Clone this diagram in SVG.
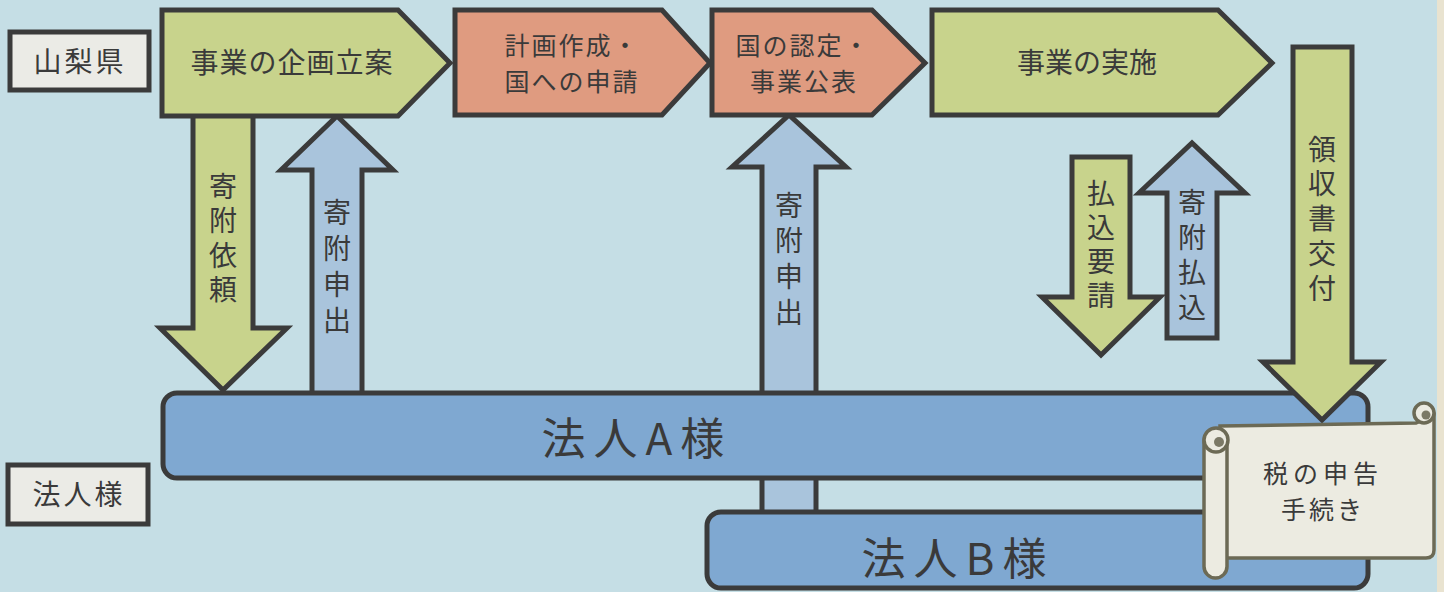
<svg xmlns="http://www.w3.org/2000/svg" width="1444" height="592" viewBox="0 0 1444 592">
<style>
.bg{fill:#c5dee5}
.edge{fill:#e9e3d0}
.shape{stroke:#3b3b3b;stroke-width:5;stroke-linejoin:miter}
.green{fill:#c8d38c}
.salmon{fill:#df9b80}
.lblue{fill:#a9c4dc}
.corp{fill:#7fa8d1}
.label{fill:#ebebe6}
.t{font-family:"Noto Sans CJK JP","Noto Sans",sans-serif;fill:#3a3a3a;text-anchor:middle}
.v{font-family:"Noto Sans CJK JP","Noto Sans",sans-serif;fill:#3a3a3a;font-size:28px;writing-mode:vertical-rl;text-anchor:start}
.t25{font-size:25px;letter-spacing:2px}
.t28{font-size:28px}
.big{font-size:44px;letter-spacing:8px}
.scroll{fill:#ecebe1;stroke:#6c6a55;stroke-width:3.5}
.dot{fill:#7b7966}
</style>
<rect class="bg" x="0" y="0" width="1444" height="592"/>
<rect class="edge" x="1437" y="0" width="7" height="592"/>

<g id="connectors">
  <g id="arrow-kifu-irai">
    <path class="shape green" d="M193,112 L253,112 L253,328 L287,328 L223,390 L160,328 L193,328 Z"/>
    <text class="v" x="223" y="172" style="letter-spacing:6.5px">寄附依頼</text>
  </g>
  <g id="arrow-kifu-moushide-1">
    <path class="shape lblue" d="M312,396 L312,170 L281,170 L337,116 L393,170 L362,170 L362,396 Z"/>
    <text class="v" x="337" y="198" style="letter-spacing:8px">寄附申出</text>
  </g>
  <g id="arrow-kifu-moushide-2">
    <path class="shape lblue" d="M762,515 L762,167 L732,167 L789,115 L846,167 L816,167 L816,515 Z"/>
    <text class="v" x="789" y="191" style="letter-spacing:7.7px">寄附申出</text>
  </g>
  <g id="arrow-haraikomi-yousei">
    <path class="shape green" d="M1072,157 L1130,157 L1130,297 L1160,297 L1101,355 L1042,297 L1072,297 Z"/>
    <text class="v" x="1101" y="179" style="letter-spacing:6px">払込要請</text>
  </g>
  <g id="arrow-kifu-haraikomi">
    <path class="shape lblue" d="M1167,338 L1167,193 L1139,193 L1192,143 L1245,193 L1217,193 L1217,338 Z"/>
    <text class="v" x="1192" y="188" style="letter-spacing:7px">寄附払込</text>
  </g>
</g>

<g id="node-kikaku">
  <path class="shape green" d="M162,10 L398,10 L450,63 L398,116 L162,116 Z"/>
  <text class="t t28" x="292" y="73" style="letter-spacing:1px">事業の企画立案</text>
</g>
<g id="node-keikaku">
  <path class="shape salmon" d="M455,10 L662,10 L710,63 L662,115 L455,115 Z"/>
  <text class="t t25" x="572" y="55">計画作成・</text>
  <text class="t t25" x="572" y="91">国への申請</text>
</g>
<g id="node-nintei">
  <path class="shape salmon" d="M712,10 L872,10 L925,63 L872,115 L712,115 Z"/>
  <text class="t t25" x="803" y="55">国の認定・</text>
  <text class="t t25" x="804" y="91">事業公表</text>
</g>
<g id="node-jisshi">
  <path class="shape green" d="M932,10 L1218,10 L1272,63 L1218,115 L932,115 Z"/>
  <text class="t t28" x="1087" y="73">事業の実施</text>
</g>

<g id="label-yamanashi">
  <rect class="shape label" x="10" y="32" width="139" height="58"/>
  <text class="t t28" x="80" y="72" style="letter-spacing:3px">山梨県</text>
</g>
<g id="label-houjin">
  <rect class="shape label" x="8" y="465" width="140" height="59"/>
  <text class="t t28" x="79" y="505" style="letter-spacing:3px">法人様</text>
</g>

<g id="node-houjin-b">
  <rect class="shape corp" x="707" y="512" width="661" height="76" rx="14"/>
  <text class="t big" x="958" y="575">法人B様</text>
</g>
<g id="node-houjin-a">
  <rect class="shape corp" x="163" y="393" width="1205" height="85" rx="14"/>
  <text class="t big" x="637" y="455">法人A様</text>
</g>

<g id="arrow-ryoushuusho">
  <path class="shape green" d="M1293,47 L1352,47 L1352,362 L1381,362 L1322,420 L1263,362 L1293,362 Z"/>
  <text class="v" x="1322" y="135" style="letter-spacing:6.75px">領収書交付</text>
</g>

<g id="node-zei">
  <path class="scroll" d="M1220,426 L1416,423 L1434,415 L1434,550 Q1434,558 1426,558 L1220,558 Z"/>
  <circle class="scroll" cx="1424" cy="413" r="10"/>
  <circle class="dot" cx="1426" cy="415" r="4.5"/>
  <rect class="scroll" x="1204" y="430" width="23" height="148" rx="11.5"/>
  <circle class="scroll" cx="1216" cy="440" r="12"/>
  <circle class="dot" cx="1219" cy="442" r="5"/>
  <text class="t t25" x="1323" y="483" style="letter-spacing:5px">税の申告</text>
  <text class="t t25" x="1323" y="519" style="letter-spacing:3px">手続き</text>
</g>
</svg>
